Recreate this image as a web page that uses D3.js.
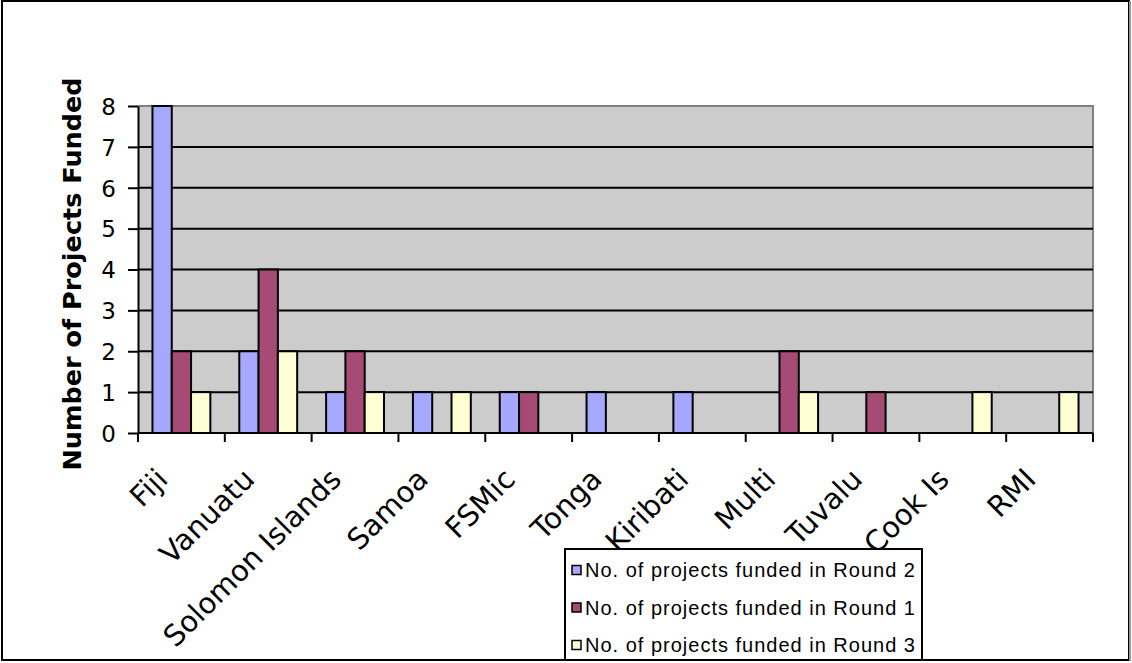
<!DOCTYPE html>
<html><head><meta charset="utf-8">
<script src="https://cdn.jsdelivr.net/npm/d3@7"></script>
<style>html,body{margin:0;padding:0;background:#fff;}svg{display:block;}</style>
</head><body>
<script>
const categories = ["Fiji","Vanuatu","Solomon Islands","Samoa","FSMic","Tonga","Kiribati","Multi","Tuvalu","Cook Is","RMI"];
const seriesNames = ["No. of projects funded in Round 2","No. of projects funded in Round 1","No. of projects funded in Round 3"];
const round2 = [8,2,1,1,1,1,1,0,0,0,0];
const round1 = [2,4,2,0,1,0,0,2,1,0,0];
const round3 = [1,2,1,1,0,0,0,1,0,1,1];
const yTicks = [0,1,2,3,4,5,6,7,8];
const colors = ["#A6A8FF","#A64A76","#FFFFD4"];
const yTitle = "Number of Projects Funded";

const W = 1132, H = 663;
const svg = d3.select("body").append("svg").attr("width", W).attr("height", H);
svg.append("rect").attr("x",2).attr("y",1).attr("width",1127).attr("height",659)
  .attr("fill","#fff").attr("stroke","#000").attr("stroke-width",2);
svg.append("line").attr("x1",1130).attr("x2",1130).attr("y1",1).attr("y2",661).attr("stroke","#999").attr("stroke-width",2);

const L = 138, R = 1093, T = 106, B = 433;
const x = d3.scaleBand().domain(categories).range([L,R]).paddingInner(0).paddingOuter(0);
const xs = d3.scaleBand().domain(d3.range(3)).range([0,x.bandwidth()]).paddingInner(0).paddingOuter(0.75);
const y = d3.scaleLinear().domain([0,8]).range([B,T]);

svg.append("rect").attr("x",L).attr("y",T).attr("width",R-L).attr("height",B-T).attr("fill","#CCCCCC");
svg.append("polyline").attr("points",`${L},${T} ${R},${T} ${R},${B}`).attr("fill","none").attr("stroke","#808080").attr("stroke-width",2);
// gridlines
svg.append("g").selectAll("line").data(yTicks.filter(d=>d>0 && d<8)).join("line")
  .attr("x1",L).attr("x2",R).attr("y1",d=>y(d)).attr("y2",d=>y(d)).attr("stroke","#000").attr("stroke-width",2);

const series = [round2, round1, round3];
series.forEach((vals, si) => {
  svg.append("g").selectAll("rect").data(vals.map((v,i)=>({v, c:categories[i]})).filter(d=>d.v>0)).join("rect")
    .attr("x", d=>x(d.c)+xs(si)).attr("y", d=>y(d.v)).attr("width", xs.bandwidth()).attr("height", d=>y(0)-y(d.v))
    .attr("fill", colors[si]).attr("stroke","#000").attr("stroke-width",2);
});

// Y axis
const yAxis = svg.append("g").attr("transform",`translate(${L},0)`)
  .call(d3.axisLeft(y).tickValues(yTicks).tickSize(10).tickSizeOuter(0).tickPadding(12));
yAxis.select(".domain").attr("stroke","#000").attr("stroke-width",2);
yAxis.selectAll(".tick line").attr("stroke","#000").attr("stroke-width",2);
yAxis.selectAll(".tick text").attr("font-family","DejaVu Sans, Verdana, sans-serif").attr("font-size",23).attr("fill","#000").attr("dy","0.36em");

// X axis
const xAxis = svg.append("g").attr("transform",`translate(0,${B})`)
  .call(d3.axisBottom(x).tickSize(0).tickFormat(""));
xAxis.select(".domain").attr("stroke","#000").attr("stroke-width",2).attr("d",`M${L},0H${R}`);
svg.append("g").selectAll("line").data(d3.range(categories.length+1)).join("line")
  .attr("x1",i=>L + i*x.step()).attr("x2",i=>L + i*x.step()).attr("y1",B).attr("y2",B+9).attr("stroke","#000").attr("stroke-width",2);
svg.append("g").selectAll("text").data(categories).join("text")
  .attr("transform", d=>`translate(${x(d)+x.bandwidth()/2-12},${B+48}) rotate(-45)`)
  .attr("text-anchor","end").attr("font-family","DejaVu Sans, Verdana, sans-serif").attr("font-size",29).attr("fill","#000")
  .text(d=>d);

// Y title
svg.append("text").attr("transform",`translate(81,274) rotate(-90)`)
  .attr("text-anchor","middle").attr("font-family","DejaVu Sans, Verdana, sans-serif").attr("font-weight","bold").attr("font-size",25.5)
  .attr("fill","#000").text(yTitle);

// Legend
const lg = svg.append("g");
lg.append("rect").attr("x",565).attr("y",549).attr("width",357).attr("height",111).attr("fill","#fff").attr("stroke","#000").attr("stroke-width",2);
seriesNames.forEach((n,i)=>{
  const cy = 570 + i*37.5;
  lg.append("rect").attr("x",572).attr("y",cy-4.5).attr("width",9).attr("height",9).attr("fill",colors[i]).attr("stroke","#000").attr("stroke-width",1.5);
  lg.append("text").attr("x",585).attr("y",cy).attr("dy","0.36em").attr("font-family","Liberation Sans, Arial, sans-serif").attr("font-size",20).attr("letter-spacing",1.0).attr("fill","#000").text(n);
});
</script>
</body></html>
